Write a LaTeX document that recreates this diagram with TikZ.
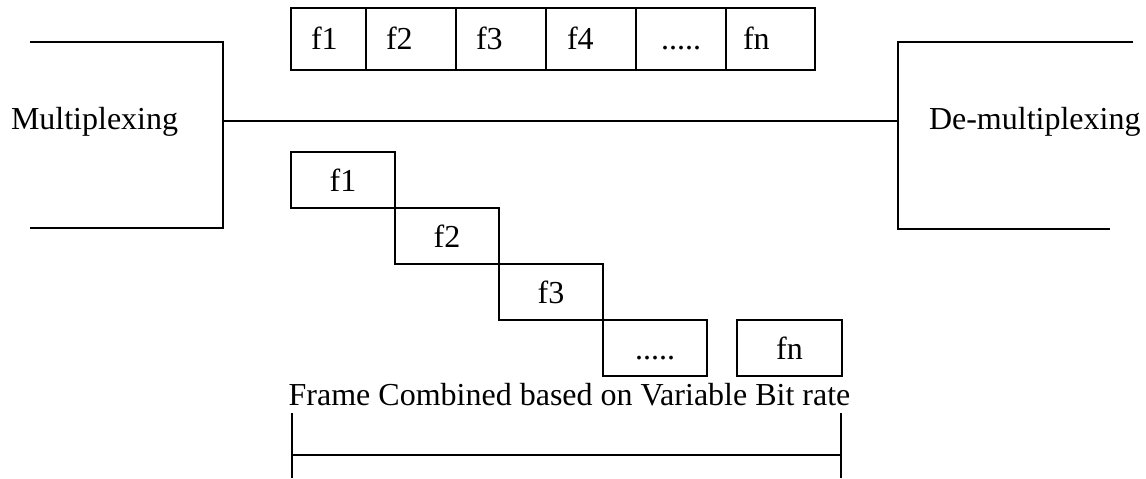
\documentclass[tikz,border=0pt]{standalone}
\usepackage{fontspec}
\setmainfont{Liberation Serif}
\begin{document}
\begin{tikzpicture}[x=0.5pt,y=-0.5pt,line width=1pt,
  txt/.style={font=\fontsize{16}{18}\selectfont,inner sep=0pt},
  cell/.style={draw,line width=1pt,inner sep=0pt,outer sep=0pt,minimum height=31pt,anchor=north west},
  stair/.style={draw,line width=1pt,inner sep=0pt,outer sep=0pt,minimum height=28pt,minimum width=52pt,anchor=north west,
    font=\fontsize{16}{18}\selectfont,text height=11pt,text depth=0pt}]
\useasboundingbox (0,0) rectangle (1146,478);

% top row of frames
\node[cell,minimum width=37.5pt] (t1) at (291,8) {};
\node[cell,minimum width=45pt] (t2) at (t1.north east) {};
\node[cell,minimum width=45pt] (t3) at (t2.north east) {};
\node[cell,minimum width=45pt] (t4) at (t3.north east) {};
\node[cell,minimum width=45pt] (t5) at (t4.north east) {};
\node[cell,minimum width=44.5pt] (t6) at (t5.north east) {};
\node[txt,anchor=base west] (l1) at (310,49) {f1};
\node[txt,anchor=base west] (l2) at (385,49) {f2};
\node[txt,anchor=base west] (l3) at (475,49) {f3};
\node[txt,anchor=base west] (l4) at (566,49) {f4};
\node[txt,anchor=base west] (l5) at (660,49) {.....};
\node[txt,anchor=base west] (l6) at (742,49) {fn};

% multiplexing bracket
\coordinate (ma) at (30,42);
\coordinate (mb) at (223,42);
\coordinate (mc) at (223,228);
\coordinate (md) at (30,228);
\coordinate (mj) at (223,121);
\draw (ma) -- (mb) -- (mc) -- (md);
\node[txt,anchor=base west] (mux) at (10,129) {Multiplexing};

% de-multiplexing bracket
\coordinate (da) at (1133,42);
\coordinate (db) at (898,42);
\coordinate (dc) at (898,229);
\coordinate (dd) at (1110,229);
\coordinate (dj) at (898,121);
\draw (da) -- (db) -- (dc) -- (dd);
\node[txt,anchor=base west] (demux) at (928,129) {De-multiplexing};

% channel
\draw (mj) -- (dj);

% staircase of frames
\node[stair] (s1) at (291,152) {f1};
\node[stair] (s2) at (s1.south east) {f2};
\node[stair] (s3) at (s2.south east) {f3};
\node[stair] (s4) at (s3.south east) {.....};
\node[stair,minimum width=52.5pt] (s5) at (737,320) {fn};

% caption and span bracket
\node[txt,anchor=base] (cap) at (569.5,405) {Frame Combined based on Variable Bit rate};
\coordinate (ba) at (291.5,413);
\coordinate (bb) at (291.5,478);
\coordinate (bc) at (841,413);
\coordinate (bd) at (841,478);
\coordinate (be) at (291.5,455);
\coordinate (bf) at (841,455);
\draw (ba) -- (bb);
\draw (bc) -- (bd);
\draw (be) -- (bf);
\end{tikzpicture}
\end{document}
